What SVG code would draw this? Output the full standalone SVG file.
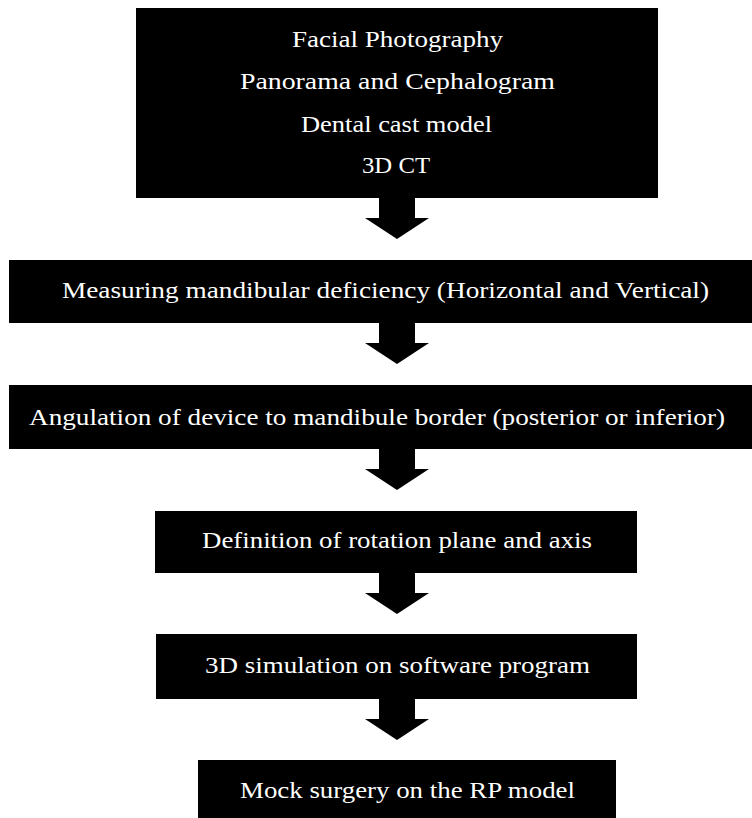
<svg xmlns="http://www.w3.org/2000/svg" width="752" height="818" viewBox="0 0 752 818">
<defs>
<style>
.box{fill:#000}
.lbl{fill:#fff;font-family:"Liberation Serif","DejaVu Serif",serif;font-size:23px}
.arr{fill:#000}
</style>
<path id="arrowShape" d="M-18,0 H18 V21 H32 L0,42 L-32,21 H-18 Z"/>
</defs>
<rect width="752" height="818" fill="#fff"/>
<g id="connectors">
<use href="#arrowShape" class="arr" x="397" y="197"/>
<use href="#arrowShape" class="arr" x="397" y="322"/>
<use href="#arrowShape" class="arr" x="397" y="448"/>
<use href="#arrowShape" class="arr" x="397" y="572"/>
<use href="#arrowShape" class="arr" x="397" y="698"/>
</g>
<g id="node1">
<rect class="box" x="136" y="8" width="522" height="190"/>
<text class="lbl" x="292" y="47" textLength="211" lengthAdjust="spacingAndGlyphs">Facial Photography</text>
<text class="lbl" x="240" y="89" textLength="315" lengthAdjust="spacingAndGlyphs">Panorama and Cephalogram</text>
<text class="lbl" x="301" y="132" textLength="191" lengthAdjust="spacingAndGlyphs">Dental cast model</text>
<text class="lbl" x="362" y="173" textLength="68" lengthAdjust="spacingAndGlyphs">3D CT</text>
</g>
<g id="node2">
<rect class="box" x="9" y="260" width="743" height="63"/>
<text class="lbl" x="62" y="298" textLength="647" lengthAdjust="spacingAndGlyphs">Measuring mandibular deficiency (Horizontal and Vertical)</text>
</g>
<g id="node3">
<rect class="box" x="9" y="385" width="743" height="64"/>
<text class="lbl" x="29" y="425" textLength="696" lengthAdjust="spacingAndGlyphs">Angulation of device to mandibule border (posterior or inferior)</text>
</g>
<g id="node4">
<rect class="box" x="155" y="511" width="482" height="62"/>
<text class="lbl" x="202" y="548" textLength="390" lengthAdjust="spacingAndGlyphs">Definition of rotation plane and axis</text>
</g>
<g id="node5">
<rect class="box" x="156" y="634" width="481" height="65"/>
<text class="lbl" x="205" y="673" textLength="385" lengthAdjust="spacingAndGlyphs">3D simulation on software program</text>
</g>
<g id="node6">
<rect class="box" x="198" y="760" width="418" height="58"/>
<text class="lbl" x="240" y="798" textLength="335" lengthAdjust="spacingAndGlyphs">Mock surgery on the RP model</text>
</g>
</svg>
